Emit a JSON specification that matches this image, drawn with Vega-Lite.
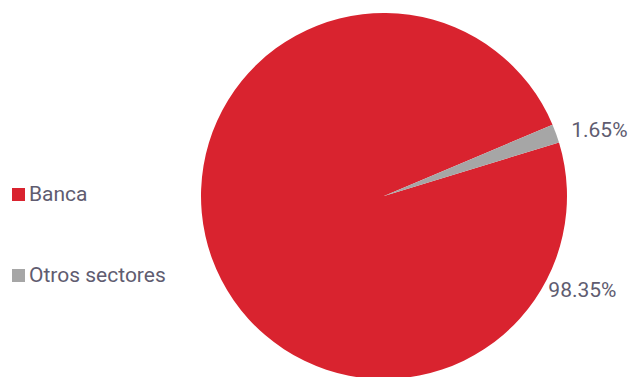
{
  "$schema": "https://vega.github.io/schema/vega-lite/v6.json",
  "autosize": "none",
  "width": 366,
  "height": 366,
  "padding": {"left": 201, "top": 13, "right": 65, "bottom": 0},
  "background": "white",
  "config": {"view": {"stroke": null}, "font": "Roboto"},
  "data": {"values": [
    {"sector": "Banca", "value": 98.35, "label": "98.35%"},
    {"sector": "Otros sectores", "value": 1.65, "label": "1.65%"}
  ]},
  "encoding": {
    "theta": {"field": "value", "type": "quantitative", "stack": true,
      "scale": {"range": [1.274, 7.557]}},
    "color": {"field": "sector", "type": "nominal",
      "scale": {"domain": ["Banca", "Otros sectores"], "range": ["#D9232F", "#A6A6A6"]},
      "legend": {"orient": "none", "legendX": -193, "legendY": 171, "title": null,
        "symbolType": "square", "symbolSize": 169, "symbolStrokeWidth": 0,
        "labelFont": "Roboto", "labelFontSize": 21, "labelColor": "#605C70",
        "labelOffset": 0, "rowPadding": 59}}
  },
  "layer": [
    {"mark": {"type": "arc", "stroke": null}},
    {"transform": [{"filter": "datum.sector == 'Otros sectores'"}],
      "mark": {"type": "text", "radius": 225, "thetaOffset": -0.049, "fontSize": 21, "color": "#605C70", "align": "center", "baseline": "middle"},
      "encoding": {"text": {"field": "label"}, "color": {"value": "#605C70"}}},
    {"transform": [{"filter": "datum.sector == 'Banca'"}],
      "mark": {"type": "text", "radius": 220, "thetaOffset": -2.346, "fontSize": 21, "color": "#605C70", "align": "center", "baseline": "middle"},
      "encoding": {"text": {"field": "label"}, "color": {"value": "#605C70"}}}
  ]
}
